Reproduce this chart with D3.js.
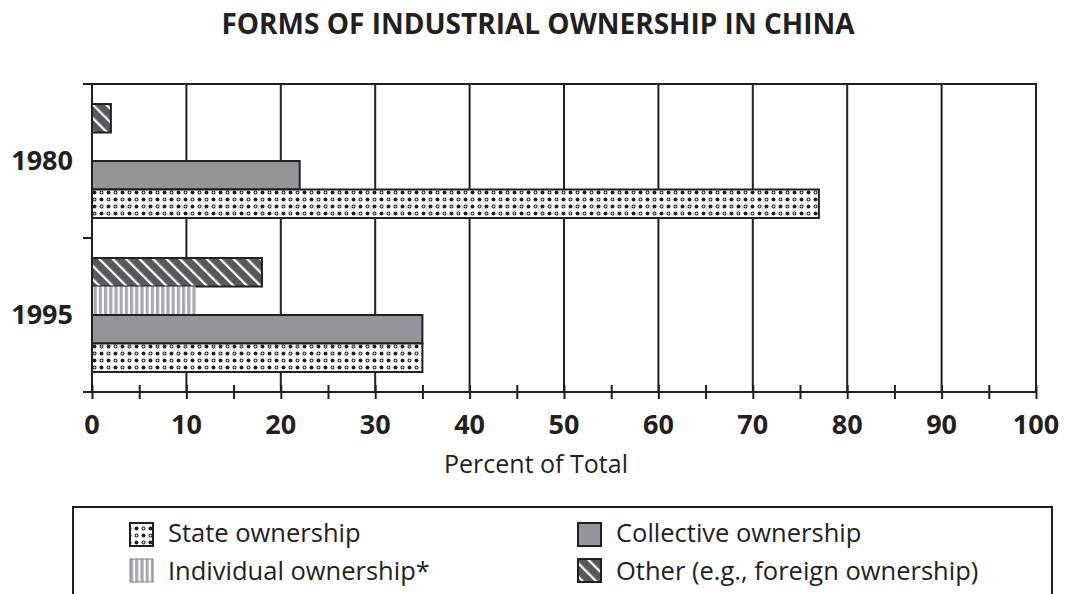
<!DOCTYPE html>
<html>
<head>
<meta charset="utf-8">
<script src="https://cdn.jsdelivr.net/npm/d3@7"></script>
<style>
  html, body { margin: 0; padding: 0; background: #fff; }
  svg { display: block; }
  text { font-family: "Open Sans", "Noto Sans", sans-serif; fill: #231f20; }
</style>
</head>
<body>
<svg id="chart" width="1065" height="594"></svg>
<script>
// ---- Data ----
const years = ["1980", "1995"];
const seriesNames = ["Other (e.g., foreign ownership)", "Individual ownership*", "Collective ownership", "State ownership"];
const seriesKeys = ["other", "individual", "collective", "state"];
const otherValues = [2, 18];
const individualValues = [0, 11];
const collectiveValues = [22, 35];
const stateValues = [77, 35];
const xTicks = [0, 10, 20, 30, 40, 50, 60, 70, 80, 90, 100];
const xMinorTicks = [5, 15, 25, 35, 45, 55, 65, 75, 85, 95];
const legendOrder = ["state", "collective", "individual", "other"];
const legendLabels = ["State ownership", "Collective ownership", "Individual ownership*", "Other (e.g., foreign ownership)"];
const titleText = "FORMS OF INDUSTRIAL OWNERSHIP IN CHINA";
const xAxisTitle = "Percent of Total";

const valuesByKey = { other: otherValues, individual: individualValues, collective: collectiveValues, state: stateValues };

const ink = "#231f20";
const svg = d3.select("#chart");

// ---- Patterns ----
const defs = svg.append("defs");
// State: dots + small rings
const pState = defs.append("pattern").attr("id", "pState").attr("patternUnits", "userSpaceOnUse")
  .attr("width", 14).attr("height", 14);
pState.append("rect").attr("width", 14).attr("height", 14).attr("fill", "#fff");
pState.append("circle").attr("cx", 3.5).attr("cy", 3.5).attr("r", 2).attr("fill", ink);
pState.append("circle").attr("cx", 10.5).attr("cy", 3.5).attr("r", 1.5).attr("fill", "none").attr("stroke", ink).attr("stroke-width", 1.1);
pState.append("circle").attr("cx", 3.5).attr("cy", 10.5).attr("r", 1.5).attr("fill", "none").attr("stroke", ink).attr("stroke-width", 1.1);
pState.append("circle").attr("cx", 10.5).attr("cy", 10.5).attr("r", 2).attr("fill", ink);
// Other: dark with white diagonal stripes
const pOther = defs.append("pattern").attr("id", "pOther").attr("patternUnits", "userSpaceOnUse")
  .attr("width", 9.5).attr("height", 9.5).attr("patternTransform", "rotate(-45)");
pOther.append("rect").attr("width", 9.5).attr("height", 9.5).attr("fill", "#58595b");
pOther.append("rect").attr("x", 0).attr("y", 0).attr("width", 2.2).attr("height", 9.5).attr("fill", "#fff");
// Individual: vertical gray/white stripes
const pInd = defs.append("pattern").attr("id", "pInd").attr("patternUnits", "userSpaceOnUse")
  .attr("width", 5.2).attr("height", 10);
pInd.append("rect").attr("width", 5.2).attr("height", 10).attr("fill", "#fff");
pInd.append("rect").attr("x", 0).attr("width", 3.2).attr("height", 10).attr("fill", "#a7a9ac");

const fills = { state: "url(#pState)", other: "url(#pOther)", individual: "url(#pInd)", collective: "#939598" };
const strokes = { state: ink, other: ink, individual: "none", collective: ink };

// ---- Scales ----
const x = d3.scaleLinear().domain([0, 100]).range([92, 1036]);
const y = d3.scaleBand().domain(years).range([84, 392]).paddingInner(0.26).paddingOuter(0.13);
const ySub = d3.scaleBand().domain(seriesKeys).range([0, y.bandwidth()]);

// ---- Title ----
svg.append("text").attr("x", 538).attr("y", 34).attr("text-anchor", "middle")
  .attr("font-size", 28).attr("font-weight", 700).text(titleText);

// ---- Grid / frame ----
const g = svg.append("g");
g.selectAll("line.grid").data(xTicks.filter(d => d > 0)).join("line").attr("class", "grid")
  .attr("x1", d => x(d)).attr("x2", d => x(d)).attr("y1", 84).attr("y2", 392)
  .attr("stroke", ink).attr("stroke-width", 2);
g.append("line").attr("x1", 84).attr("x2", x(100) + 1).attr("y1", 84).attr("y2", 84)
  .attr("stroke", ink).attr("stroke-width", 2);

// ---- Bars ----
const rows = [];
years.forEach((yr, i) => seriesKeys.forEach(k => {
  const v = valuesByKey[k][i];
  if (v > 0) rows.push({ year: yr, key: k, value: v });
}));
g.selectAll("rect.bar").data(rows).join("rect").attr("class", "bar")
  .attr("x", x(0)).attr("y", d => y(d.year) + ySub(d.key))
  .attr("width", d => x(d.value) - x(0)).attr("height", ySub.bandwidth())
  .attr("fill", d => fills[d.key]).attr("stroke", d => strokes[d.key]).attr("stroke-width", 2);

// ---- X axis ----
const xAxis = d3.axisBottom(x).tickValues(xTicks.concat(xMinorTicks)).tickSize(7).tickFormat("");
const ax = svg.append("g").attr("transform", "translate(0,392)").call(xAxis);
ax.select(".domain").attr("d", `M84,0H${x(100)}`).attr("stroke", ink).attr("stroke-width", 2);
ax.selectAll(".tick line").attr("y1", -7).attr("y2", 7).attr("stroke", ink).attr("stroke-width", 2);
svg.append("g").selectAll("text").data(xTicks).join("text")
  .attr("x", d => x(d)).attr("y", 434).attr("text-anchor", "middle")
  .attr("font-size", 27).attr("font-weight", 700).text(d => d);
svg.append("text").attr("x", 536).attr("y", 473).attr("text-anchor", "middle")
  .attr("font-size", 25).text(xAxisTitle);

// ---- Y axis ----
const yAxis = d3.axisLeft(y).tickSize(0).tickPadding(20);
const ay = svg.append("g").attr("transform", "translate(92,0)").call(yAxis);
ay.select(".domain").attr("d", "M0,84V392").attr("stroke", ink).attr("stroke-width", 2);
ay.selectAll(".tick text").attr("font-size", 27).attr("font-weight", 700)
  .attr("font-family", "'Open Sans', sans-serif").attr("fill", ink).attr("x", -19).attr("dy", "0.35em");
const edges = [84, 238, 392];
svg.append("g").selectAll("line").data(edges).join("line")
  .attr("x1", 83).attr("x2", 92).attr("y1", d => d).attr("y2", d => d)
  .attr("stroke", ink).attr("stroke-width", 2);

// ---- Legend ----
svg.append("rect").attr("x", 73).attr("y", 507).attr("width", 979).attr("height", 100)
  .attr("fill", "none").attr("stroke", ink).attr("stroke-width", 2);
const leg = svg.append("g");
const legPos = [[130, 523, 542], [578, 523, 542], [130, 559, 580], [578, 559, 580]];
legendOrder.forEach((k, i) => {
  const [lx, ly, by] = legPos[i];
  leg.append("rect").attr("x", lx).attr("y", ly).attr("width", 23).attr("height", 23)
    .attr("fill", fills[k]).attr("stroke", k === "individual" ? "#808285" : ink).attr("stroke-width", k === "individual" ? 1 : 2);
  leg.append("text").attr("x", lx + 38).attr("y", by).attr("font-size", 25.5).text(legendLabels[i]);
});
</script>
</body>
</html>
